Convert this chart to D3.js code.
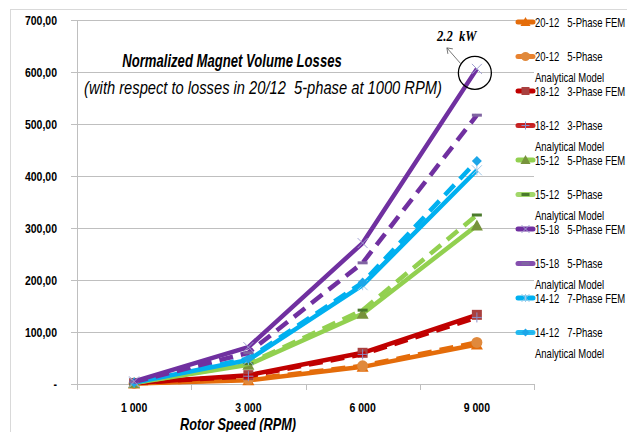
<!DOCTYPE html>
<html><head><meta charset="utf-8">
<script src="https://cdn.jsdelivr.net/npm/d3@7"></script>
<style>
body{margin:0;background:#fff;}
svg{display:block;}
text{white-space:pre;}
</style></head>
<body><svg id="c" width="627" height="432"></svg>
<script>
const categories = ["1 000", "3 000", "6 000", "9 000"];
const yTicks = [0, 100, 200, 300, 400, 500, 600, 700];
const seriesNames = [
  ["20-12   5-Phase FEM"],
  ["20-12   5-Phase", "Analytical Model"],
  ["18-12   3-Phase FEM"],
  ["18-12   3-Phase", "Analytical Model"],
  ["15-12   5-Phase FEM"],
  ["15-12   5-Phase", "Analytical Model"],
  ["15-18   5-Phase FEM"],
  ["15-18   5-Phase", "Analytical Model"],
  ["14-12   7-Phase FEM"],
  ["14-12   7-Phase", "Analytical Model"]
];
const v2012FEM  = [1, 7, 33, 76];
const v2012AM   = [1, 9, 35, 80];
const v1812FEM  = [2, 17, 60, 133];
const v1812AM   = [2, 15, 57, 128];
const v1512FEM  = [2, 37, 135, 305];
const v1512AM   = [2, 39, 142, 325];
const v1518FEM  = [5, 71, 271, 606];
const v1518AM   = [4, 60, 233, 517];
const v1412FEM  = [3, 46, 190, 411];
const v1412AM   = [3, 49, 195, 429];
const seriesValues = [v2012FEM, v2012AM, v1812FEM, v1812AM, v1512FEM, v1512AM, v1518FEM, v1518AM, v1412FEM, v1412AM];
const lineColors = ["#E46C0A","#E46C0A","#C00000","#C00000","#92D050","#92D050","#7030A0","#7030A0","#00B0F0","#00B0F0"];
const markerColors = ["#E46C0A","#E0893C","#A9403F","#8B8FC8","#77933C","#4A7A2C","#A0A0D0","#8064A2","#A0C8E8","#1DA6E8"];
const markerTypes = ["triangle","circle","square","plus","triangle","dash","x","dash","star","diamond"];
const dashed = [false,true,false,true,false,true,false,true,false,true];

const svg = d3.select("#c");
const font = "'Liberation Sans','Arial',sans-serif";

// helper: horizontally condensed text anchored at (x,y)
function ctext(parent, tx, ty, str, anchor, size, opts){
  opts = opts||{};
  const g = parent.append("g").attr("transform",`translate(${tx},${ty}) scale(${opts.sx||0.8},1)`);
  const t = g.append("text").attr("x",0).attr("y",0).attr("text-anchor",anchor)
    .attr("font-family",opts.family||font).attr("font-size",size).attr("fill","#000").text(str);
  if(opts.bold) t.attr("font-weight","bold");
  if(opts.italic) t.attr("font-style","italic");
  return t;
}

// outer frame
svg.append("rect").attr("x",10.5).attr("y",9.5).attr("width",640).attr("height",440)
  .attr("fill","none").attr("stroke","#D9D9D9").attr("stroke-width",1);

const x = d3.scaleBand().domain(categories).range([77, 534]).padding(0);
const y = d3.scaleLinear().domain([0, 700]).range([384, 20]);

// gridlines
svg.append("g").selectAll("line").data(yTicks).join("line")
  .attr("x1",71).attr("x2",534)
  .attr("y1",d=>Math.round(y(d))+0.5).attr("y2",d=>Math.round(y(d))+0.5)
  .attr("stroke","#BFBFBF").attr("stroke-width",1);

// y axis line
svg.append("line").attr("x1",77.5).attr("x2",77.5).attr("y1",20).attr("y2",384)
  .attr("stroke","#BFBFBF");

// x axis ticks
const xt = categories.map(c=>x(c)).concat([534]);
svg.append("g").selectAll("line").data(xt).join("line")
  .attr("x1",d=>Math.round(d)+0.5).attr("x2",d=>Math.round(d)+0.5)
  .attr("y1",384).attr("y2",390).attr("stroke","#BFBFBF");

// y labels
const yl = svg.append("g");
yTicks.forEach(d=>{
  ctext(yl, 57, y(d)+4.5, d===0 ? "-" : d3.format(".2f")(d).replace(".",","), "end", 12.5, {bold:true, sx:0.84});
});

// x labels
const xl = svg.append("g");
categories.forEach(d=>{
  ctext(xl, x(d)+x.bandwidth()/2, 412, d, "middle", 12.5, {bold:true, sx:0.84});
});

// x title
ctext(svg, 238, 430, "Rotor Speed (RPM)", "middle", 17, {bold:true, italic:true, sx:0.75});

// titles
ctext(svg, 232, 67, "Normalized Magnet Volume Losses", "middle", 17.5, {bold:true, italic:true, sx:0.75});
ctext(svg, 263, 94, "(with respect to losses in 20/12  5-phase at 1000 RPM)", "middle", 17.5, {italic:true, sx:0.84});

const cx = d=>x(d)+x.bandwidth()/2;

function marker(g, type, px, py, col, s){
  s = s||5;
  if(type==="triangle"){
    g.append("path").attr("d",`M${px},${py-s-1}L${px+s+1},${py+s}L${px-s-1},${py+s}Z`).attr("fill",col);
  } else if(type==="circle"){
    g.append("circle").attr("cx",px).attr("cy",py).attr("r",s+0.5).attr("fill",col);
  } else if(type==="square"){
    g.append("rect").attr("x",px-s).attr("y",py-s).attr("width",2*s).attr("height",2*s).attr("fill",col);
  } else if(type==="plus"){
    g.append("path").attr("d",`M${px-s},${py}H${px+s}M${px},${py-s}V${py+s}`).attr("stroke",col).attr("stroke-width",1);
  } else if(type==="x"){
    g.append("path").attr("d",`M${px-s},${py-s}L${px+s},${py+s}M${px+s},${py-s}L${px-s},${py+s}`).attr("stroke",col).attr("stroke-width",1);
  } else if(type==="star"){
    g.append("path").attr("d",`M${px-s},${py-s}L${px+s},${py+s}M${px+s},${py-s}L${px-s},${py+s}M${px},${py-s}V${py+s}`).attr("stroke",col).attr("stroke-width",1);
  } else if(type==="dash"){
    g.append("rect").attr("x",px-s).attr("y",py-1.5).attr("width",2*s).attr("height",3).attr("fill",col);
  } else if(type==="diamond"){
    g.append("path").attr("d",`M${px},${py-s}L${px+s},${py}L${px},${py+s}L${px-s},${py}Z`).attr("fill",col);
  }
}

const line = d3.line().x((d,i)=>cx(categories[i])).y(d=>y(d));
const order = [0,1,2,3,4,5,8,9,7,6];
order.forEach(k=>{
  const g = svg.append("g");
  g.append("path").attr("d",line(seriesValues[k])).attr("fill","none")
    .attr("stroke",lineColors[k]).attr("stroke-width",4.5)
    .attr("stroke-linejoin","round")
    .attr("stroke-dasharray",dashed[k]?"14,8":null);
  seriesValues[k].forEach((v,i)=>marker(g, markerTypes[k], cx(categories[i]), y(v), markerColors[k], 5));
});

// annotation
const px9 = cx(categories[3]), py9 = y(v1518FEM[3]);
svg.append("circle").attr("cx",px9-2).attr("cy",py9+4).attr("r",16.5)
  .attr("fill","none").attr("stroke","#000").attr("stroke-width",1.3);
svg.append("line").attr("x1",px9-16).attr("y1",py9-5).attr("x2",px9-30).attr("y2",py9-21)
  .attr("stroke","#555").attr("stroke-width",0.8);
svg.append("path").attr("d",`M${px9-30},${py9-21}l1,6M${px9-30},${py9-21}l6,1`)
  .attr("stroke","#555").attr("stroke-width",0.8).attr("fill","none");
ctext(svg, 437, 41, "2.2  kW", "start", 14, {bold:true, italic:true, sx:0.9, family:"'Liberation Serif','DejaVu Serif',serif"});

// legend
const lg = svg.append("g");
let ly = 22;
seriesNames.forEach((nm,k)=>{
  const gy = ly;
  lg.append("line").attr("x1",518).attr("x2",533).attr("y1",gy).attr("y2",gy)
    .attr("stroke",lineColors[k]).attr("stroke-width",5).attr("stroke-linecap","round")
    .attr("stroke-opacity",dashed[k]?0.85:1);
  marker(lg, markerTypes[k], 525.5, gy, markerColors[k], 4);
  nm.forEach((t,j)=>{
    ctext(lg, 535, gy+4.5+j*20.5, t, "start", 12.5, {sx:0.76});
  });
  ly += 34.5;
});
</script></body></html>
